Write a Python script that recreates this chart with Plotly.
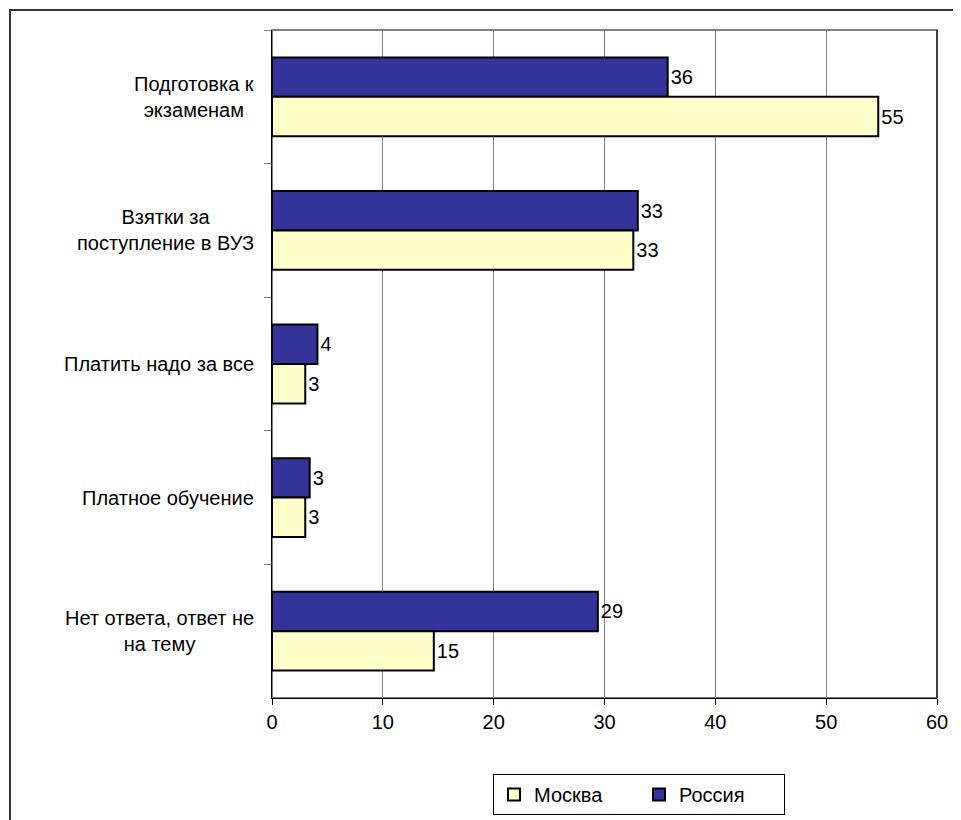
import plotly.graph_objects as go

categories = [
    "Подготовка к<br>экзаменам",
    "Взятки за<br>поступление в ВУЗ",
    "Платить надо за все",
    "Платное обучение",
    "Нет ответа, ответ не<br>на тему",
]
russia = [35.7, 33.0, 4.1, 3.4, 29.4]
moscow = [54.7, 32.6, 3.0, 3.0, 14.6]
x_ticks = [0, 10, 20, 30, 40, 50, 60]

# page has an 8px body margin; figure is drawn in page coords minus 8
OFF = 8
L, R, T, B = 272 - OFF, 24, 30 - OFF, 122
W, H = 961 - OFF, 820 - OFF
pw, ph = W - L - R, H - T - B

def px_x(p):
    return (p - OFF - L) / pw

def px_y(p):
    return (H - B - (p - OFF)) / ph

font = dict(family="Liberation Sans, Arial, sans-serif", size=20, color="black")

fig = go.Figure()
fig.add_trace(go.Bar(
    name="Россия", y=categories, x=russia, orientation="h",
    marker=dict(color="#333399", line=dict(color="black", width=2)),
    text=[f"{v:.0f}" for v in russia], textposition="outside",
    textfont=font, cliponaxis=False,
))
fig.add_trace(go.Bar(
    name="Москва", y=categories, x=moscow, orientation="h",
    marker=dict(color="#FFFFCC", line=dict(color="black", width=2)),
    text=[f"{v:.0f}" for v in moscow], textposition="outside",
    textfont=font, cliponaxis=False,
))

annotations = [
    dict(text=c, x=px_x(256), y=c, xref="paper", yref="y",
         xanchor="right", yanchor="middle", align="center",
         showarrow=False, font=font)
    for c in categories
]

fig.update_layout(
    width=W, height=H,
    margin=dict(l=L, r=R, t=T, b=B, autoexpand=False),
    paper_bgcolor="white", plot_bgcolor="white",
    font=font,
    barmode="group", bargap=0.41, bargroupgap=0,
    showlegend=True,
    legend=dict(
        orientation="h", traceorder="reversed",
        x=px_x(639), y=px_y(774), xanchor="center", yanchor="top",
        bordercolor="black", borderwidth=1, bgcolor="white",
        font=font, itemwidth=30, entrywidth=100,
    ),
    xaxis=dict(
        range=[0, 60], tickvals=x_ticks, ticktext=[str(v) for v in x_ticks],
        showgrid=True, gridcolor="#808080", gridwidth=1,
        showline=True, linecolor="black", linewidth=1,
        ticks="outside", ticklen=6, tickcolor="black",
        zeroline=False, tickfont=font, mirror=False,
    ),
    yaxis=dict(
        autorange="reversed", type="category",
        tickson="boundaries", ticks="outside", ticklen=7, tickcolor="#808080",
        showline=True, linecolor="black", linewidth=1,
        showgrid=False, showticklabels=False,
    ),
    annotations=annotations,
    shapes=[
        dict(type="rect", xref="paper", yref="paper",
             x0=0, x1=1, y0=0, y1=1,
             line=dict(color="#808080", width=2), layer="below"),
        dict(type="line", xref="paper", yref="paper",
             x0=1, x1=1, y0=0, y1=1,
             line=dict(color="#404040", width=2)),
        dict(type="rect", xref="paper", yref="paper",
             x0=px_x(10), x1=px_x(1000), y0=px_y(10), y1=px_y(860),
             line=dict(color="#333333", width=2)),
    ],
)

fig.write_html("out.html")
